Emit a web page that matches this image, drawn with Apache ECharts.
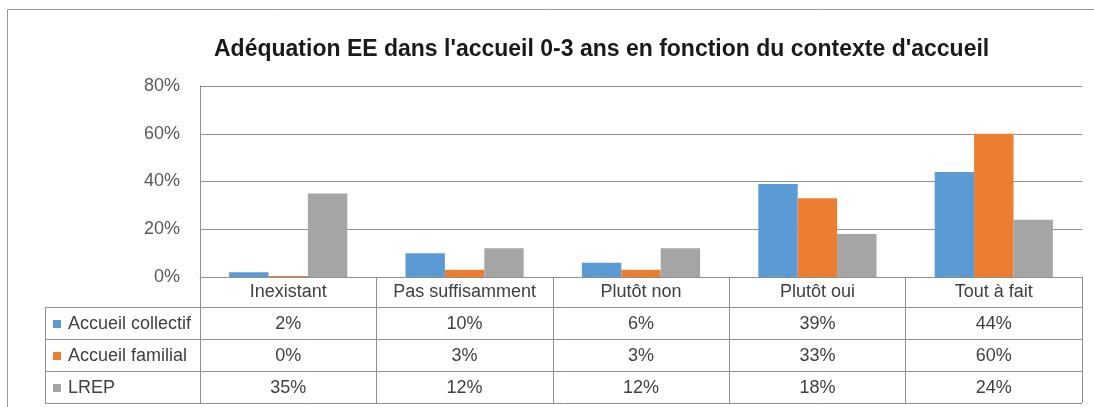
<!DOCTYPE html>
<html>
<head>
<meta charset="utf-8">
<script src="https://cdn.jsdelivr.net/npm/echarts@6/dist/echarts.min.js"></script>
<style>
html, body { margin: 0; padding: 0; background: #fff; }
#chart { width: 1094px; height: 407px; }
</style>
</head>
<body>
<div id="chart"></div>
<script>
// données
var categories = ['Inexistant', 'Pas suffisamment', 'Plutôt non', 'Plutôt oui', 'Tout à fait'];
var seriesNames = ['Accueil collectif', 'Accueil familial', 'LREP'];
var collectif = [2, 10, 6, 39, 44];
var familial = [0, 3, 3, 33, 60];
var lrep = [35, 12, 12, 18, 24];
var yTicks = [0, 20, 40, 60, 80];

var colors = ['#5b9bd5', '#ed7d31', '#a5a5a5'];
var values = [collectif, familial, lrep];
var FONT = 'Liberation Sans';
var lineColor = '#8f8f8f';
var textColor = '#404040';

var chart = echarts.init(document.getElementById('chart'));

var option = {
    animation: false,
    backgroundColor: '#fff',
    title: {
        text: "Adéquation EE dans l'accueil 0-3 ans en fonction du contexte d'accueil",
        left: 214,
        top: 38,
        padding: 0,
        textStyle: { fontFamily: FONT, fontSize: 23, fontWeight: 'bold', color: '#1a1a1a' }
    },
    grid: { left: 200, right: 12, top: 86, bottom: 130, containLabel: false },
    xAxis: {
        type: 'category',
        data: categories,
        axisLine: { show: true, lineStyle: { color: lineColor, width: 1 } },
        axisTick: { show: true, length: 126, interval: 0, lineStyle: { color: lineColor } },
        axisLabel: { interval: 0, margin: 6, fontFamily: FONT, fontSize: 18, color: textColor }
    },
    yAxis: {
        type: 'value',
        min: yTicks[0],
        max: yTicks[yTicks.length - 1],
        interval: yTicks[1] - yTicks[0],
        axisLine: { show: true, lineStyle: { color: lineColor } },
        axisTick: { show: false },
        splitLine: { lineStyle: { color: lineColor, width: 1 } },
        axisLabel: { formatter: '{value}%', margin: 20, fontFamily: FONT, fontSize: 18, color: '#595959' }
    },
    series: seriesNames.map(function (name, k) {
        return {
            name: name,
            type: 'bar',
            data: values[k],
            barGap: 0,
            barCategoryGap: '33%',
            barMinHeight: 1,
            itemStyle: { color: colors[k] }
        };
    })
};
chart.setOption(option);

// tableau de données sous l'axe
var y0 = Math.round(chart.convertToPixel({ yAxisIndex: 0 }, 0));
var band = chart.convertToPixel({ xAxisIndex: 0 }, 1) - chart.convertToPixel({ xAxisIndex: 0 }, 0);
var xRight = chart.convertToPixel({ xAxisIndex: 0 }, categories.length - 1) + band / 2;
var tableLeft = 45;
var headerH = 30, rowH = 32;
var g = [];

function hline(x1, x2, y) {
    g.push({ type: 'line', shape: { x1: x1, y1: y + 0.5, x2: x2, y2: y + 0.5 },
        style: { stroke: lineColor, lineWidth: 1 }, z: 10 });
}

for (var r = 0; r <= seriesNames.length; r++) {
    hline(tableLeft, xRight, y0 + headerH + r * rowH);
}
g.push({ type: 'line',
    shape: { x1: tableLeft + 0.5, y1: y0 + headerH, x2: tableLeft + 0.5, y2: y0 + headerH + seriesNames.length * rowH + 1 },
    style: { stroke: lineColor, lineWidth: 1 }, z: 10 });

seriesNames.forEach(function (name, k) {
    var cy = y0 + headerH + k * rowH + rowH / 2 + 1;
    g.push({ type: 'rect', shape: { x: 53, y: cy - 4, width: 8, height: 8 }, style: { fill: colors[k] }, z: 10 });
    g.push({ type: 'text', x: 68, y: cy,
        style: { text: name, fontFamily: FONT, fontSize: 18, fill: textColor, align: 'left', verticalAlign: 'middle' }, z: 10 });
    values[k].forEach(function (v, i) {
        g.push({ type: 'text', x: chart.convertToPixel({ xAxisIndex: 0 }, i), y: cy,
            style: { text: v + '%', fontFamily: FONT, fontSize: 18, fill: textColor, align: 'center', verticalAlign: 'middle' }, z: 10 });
    });
});

// cadre extérieur
g.push({ type: 'polyline', shape: { points: [[7.5, 407], [7.5, 9.5], [1094, 9.5]] },
    style: { stroke: '#9a9a9a', lineWidth: 1, fill: null }, z: 10 });

chart.setOption({ graphic: g });
</script>
</body>
</html>
